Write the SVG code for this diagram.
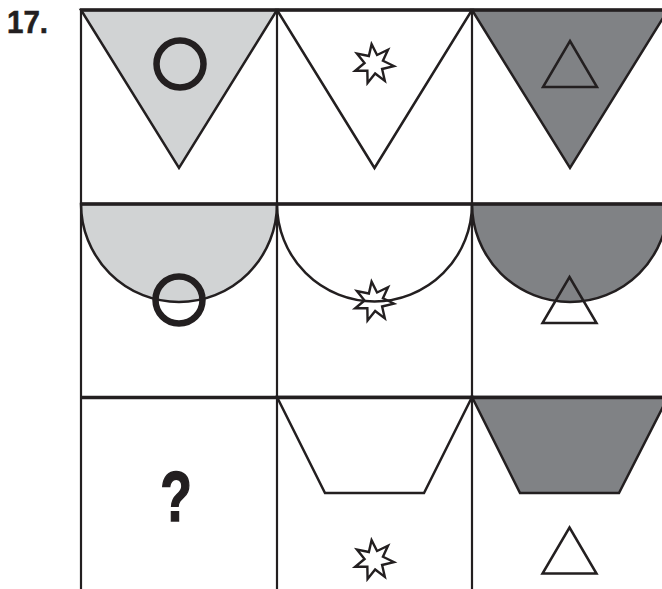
<svg xmlns="http://www.w3.org/2000/svg" width="662" height="589" viewBox="0 0 662 589">
<style>
.ln{stroke:#231f20;fill:none}
.sh{stroke:#231f20;stroke-width:2.5;stroke-linejoin:miter}
.lt{fill:#d1d3d4}
.dk{fill:#808285}
.wh{fill:#ffffff}
.ring{fill:none;stroke:#231f20;stroke-width:6.5}
.tri{fill:none;stroke:#231f20;stroke-width:2.5}
.star{fill:none;stroke:#231f20;stroke-width:2.4;stroke-linejoin:miter}
.lbl{font-family:"Liberation Sans",Arial,sans-serif;font-weight:bold;fill:#231f20}
</style>
<defs>
<path id="star" d="M-2.44,-19.85 L3.05,-9 L14,-14.28 L8.94,-3.23 L19.9,2.04 L8.09,4.97 L10.81,16.83 L1.16,9.43 L-6.42,18.94 L-6.65,6.78 L-18.81,6.79 L-9.45,-0.97 L-17.04,-10.47 L-5.13,-7.99 Z"/>
<path id="tri" d="M0,0 L27,46 L-27,46 Z"/>
</defs>
<rect width="662" height="589" fill="#ffffff"/>
<text class="lbl" x="7" y="33" font-size="32" textLength="41" lengthAdjust="spacingAndGlyphs" stroke="#231f20" stroke-width="0.6">17.</text>
<g id="cell-1-1">
<path class="sh lt" d="M81,10 L277,10 L179,168 Z"/>
</g>
<g id="cell-1-2">
<path class="sh wh" d="M277,10 L472,10 L374.5,168 Z"/>
</g>
<g id="cell-1-3">
<path class="sh dk" d="M472,10 L668,10 L570,168 Z"/>
</g>
<g id="cell-2-1">
<path class="sh lt" d="M81,204 A98,98 0 0 0 277,204 Z"/>
</g>
<g id="cell-2-2">
<path class="sh wh" d="M277,204 A97.5,97.5 0 0 0 472,204 Z"/>
</g>
<g id="cell-2-3">
<path class="sh dk" d="M472,204 A98,98 0 0 0 668,204 Z"/>
</g>
<g id="cell-3-2">
<path class="sh wh" d="M277,397 L472,397 L424,493 L325,493 Z"/>
</g>
<g id="cell-3-3">
<path class="sh dk" d="M472,397 L668,397 L619,493 L520,493 Z"/>
</g>
<g id="grid">
<line class="ln" x1="81" y1="9" x2="81" y2="589" stroke-width="2.2"/>
<line class="ln" x1="277" y1="9" x2="277" y2="589" stroke-width="2.2"/>
<line class="ln" x1="472" y1="9" x2="472" y2="589" stroke-width="2.2"/>
<line class="ln" x1="80" y1="10" x2="662" y2="10" stroke-width="3.5"/>
<line class="ln" x1="80" y1="204" x2="662" y2="204" stroke-width="3.5"/>
<line class="ln" x1="80" y1="397.5" x2="662" y2="397.5" stroke-width="3.5"/>
</g>
<g id="symbols">
<circle id="ring-1" class="ring" cx="180" cy="64" r="23.5"/>
<use id="star-1" href="#star" class="star" transform="translate(374,64)"/>
<use id="tri-1" href="#tri" class="tri" transform="translate(570,41)"/>
<circle id="ring-2" class="ring" cx="179" cy="300" r="23.5"/>
<use id="star-2" href="#star" class="star" transform="translate(374,301.5)"/>
<use id="tri-2" href="#tri" class="tri" transform="translate(569.5,277)"/>
<text id="question" class="lbl" x="0" y="0" font-size="70" text-anchor="middle" stroke="#231f20" stroke-width="1.6" transform="translate(176,521) scale(0.74,1)">?</text>
<use id="star-3" href="#star" class="star" transform="translate(374,560)"/>
<use id="tri-3" href="#tri" class="tri" transform="translate(569.5,527.5)"/>
</g>
</svg>
